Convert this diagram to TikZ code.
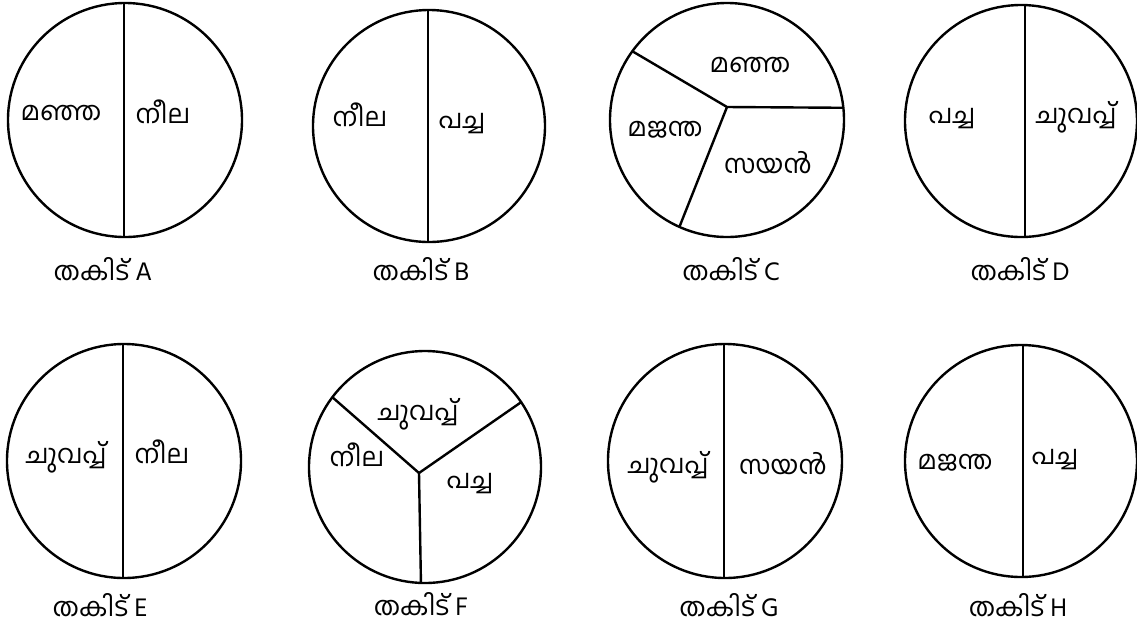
\documentclass[tikz,border=0pt]{standalone}
\usepackage{fontspec}
\newfontfamily\mlfont[Script=Malayalam]{Hind Kochi}
\usetikzlibrary{calc}

\begin{document}
\begin{tikzpicture}[x=0.5pt, y=-0.5pt, line width=1.2pt,
  word/.style={font=\mlfont\fontsize{13}{15}\selectfont, inner sep=0pt, anchor=base},
  plate/.style={font=\mlfont\fontsize{13}{15}\selectfont, inner sep=0pt, anchor=base}]
  \useasboundingbox (0,0) rectangle (1137,629);
  % centres of the plates
  \coordinate (A) at (125,120);  \coordinate (B) at (429,126);
  \coordinate (C) at (727,120);  \coordinate (D) at (1021,121);
  \coordinate (E) at (124,461);  \coordinate (F) at (425,467);
  \coordinate (G) at (725,461);  \coordinate (H) at (1021,461);

  % A
  \draw (A) circle (117);
  \draw ($(A)+(-1,-117)$) -- ($(A)+(-1,117)$);
  \node[word] (A-l) at (61,120) {മഞ്ഞ};
  \node[word] (A-r) at (163,123) {നീല};
  \node[plate] (A-tag) at (103,280) {തകിട്\hspace{3pt}A};

  % B
  \draw (B) circle (116);
  \draw ($(B)+(-1,-116)$) -- ($(B)+(-1,116)$);
  \node[word] (B-l) at (360,126) {നീല};
  \node[word] (B-r) at (462,128) {പച്ച};
  \node[plate] (B-tag) at (421,280) {തകിട്\hspace{3pt}B};

  % C, three parts
  \draw (C) circle (117);
  \coordinate (C-hub) at (727,107);
  \coordinate (C-1) at ($(C)+(-6:117)$);
  \coordinate (C-2) at ($(C)+(-144:117)$);
  \coordinate (C-3) at ($(C)+(114:117)$);
  \draw (C-1) -- (C-hub) -- (C-2);
  \draw (C-hub) -- (C-3);
  \node[word] (C-top) at (750,72) {മഞ്ഞ};
  \node[word] (C-left) at (665,136) {മജന്ത};
  \node[word] (C-right) at (768,173) {സയൻ};
  \node[plate] (C-tag) at (731,280) {തകിട്\hspace{3pt}C};

  % D
  \draw (D) circle (116);
  \draw ($(D)+(4,-116)$) -- ($(D)+(4,116)$);
  \node[word] (D-l) at (952,123) {പച്ച};
  \node[word] (D-r) at (1076,123) {ചുവപ്പ്};
  \node[plate] (D-tag) at (1020,280) {തകിട്\hspace{3pt}D};

  % E
  \draw (E) circle (117);
  \draw ($(E)+(-1,-117)$) -- ($(E)+(-1,117)$);
  \node[word] (E-l) at (66,463) {ചുവപ്പ്};
  \node[word] (E-r) at (162,463) {നീല};
  \node[plate] (E-tag) at (100,616) {തകിട്\hspace{3pt}E};

  % F, three parts
  \draw (F) circle (116);
  \coordinate (F-hub) at (419,473);
  \coordinate (F-1) at ($(F)+(-143:116)$);
  \coordinate (F-2) at ($(F)+(-34:116)$);
  \coordinate (F-3) at ($(F)+(92:116)$);
  \draw (F-1) -- (F-hub) -- (F-2);
  \draw (F-hub) -- (F-3);
  \node[word] (F-top) at (418,420) {ചുവപ്പ്};
  \node[word] (F-left) at (357,466) {നീല};
  \node[word] (F-right) at (470,488) {പച്ച};
  \node[plate] (F-tag) at (421,615) {തകിട്\hspace{3pt}F};

  % G
  \draw (G) circle (117);
  \draw ($(G)+(-1,-117)$) -- ($(G)+(-1,117)$);
  \node[word] (G-l) at (668,473) {ചുവപ്പ്};
  \node[word] (G-r) at (783,474) {സയൻ};
  \node[plate] (G-tag) at (729,616) {തകിട്\hspace{3pt}G};

  % H
  \draw (H) circle (116);
  \draw ($(H)+(2,-116)$) -- ($(H)+(2,116)$);
  \node[word] (H-l) at (955,469) {മജന്ത};
  \node[word] (H-r) at (1055,464) {പച്ച};
  \node[plate] (H-tag) at (1018,616) {തകിട്\hspace{3pt}H};
\end{tikzpicture}
\end{document}
